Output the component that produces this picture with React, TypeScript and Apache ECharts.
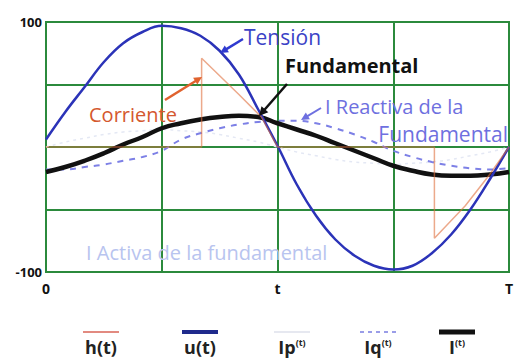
import { useEffect, useRef } from "react";
import * as echarts from "echarts";

// angle along one period, degrees
const angleDeg = [0, 15, 30, 45, 60, 75, 90, 105, 120, 135, 150, 165, 180, 195, 210, 225, 240, 255, 270, 285, 300, 315, 330, 345, 360];
// u(t) voltage
const voltage = [6, 28, 48, 68, 83, 92, 97, 95, 89, 77, 58, 30, 1, -30, -55, -74, -87, -95, -98, -95, -85, -70, -50, -26, 0];
// I(t) fundamental
const fundamental = [-20, -16, -11, -5, 2, 8, 15, 19, 22, 24, 25, 24, 19, 14, 9, 3, -3, -9, -15, -19, -22, -23, -23, -22, -20];
// Iq(t) reactive component of the fundamental
const reactive = [-18, -18, -16, -14, -11, -8, -3, 6, 11, 15, 18, 20, 21, 21, 19, 15, 10, 4, -3, -8, -12, -15, -17, -18, -17];
// Ip(t) active component of the fundamental (faint)
const active = [0, 4, 7, 10, 12, 13, 14, 13, 12, 10, 7, 4, 0, -4, -7, -10, -12, -13, -14, -13, -12, -10, -7, -4, 0];
// h(t) current
const currentAngle = [0, 121, 121, 135, 150, 167.5, 180, 302, 302, 326, 345, 360];
const currentValue = [0, 0, 71, 57, 42, 24, 0, 0, -73, -47, -22, 0];

const xTickLabels: Record<number, string> = { 0: "0", 180: "t", 360: "T" };
const yTickLabels: Record<string, string> = { "100": "100", "-100": "-100" };

const legendNames = ["h(t)", "u(t)", "Ip", "Iq", "I"];

const GREEN = "#2b8a3c";
const C_U = "#2b33b8";
const C_H = "#e0703e";
const C_Q = "#7d80e6";
const C_P = "#e4e8f4";
const C_I = "#111111";
const FONT = "'Open Sans', 'Noto Sans', sans-serif";

function pairs(xs: number[], ys: number[]) {
  return xs.map((x, i) => [x, ys[i]]);
}

function arrow(x1: number, y1: number, x2: number, y2: number, color: string, width: number, head: number) {
  const dx = x2 - x1;
  const dy = y2 - y1;
  const len = Math.hypot(dx, dy);
  const ux = dx / len;
  const uy = dy / len;
  const bx = x2 - ux * head;
  const by = y2 - uy * head;
  const px = -uy * head * 0.5;
  const py = ux * head * 0.5;
  return [
    { type: "line", shape: { x1, y1, x2: bx + ux, y2: by + uy }, style: { stroke: color, lineWidth: width }, z: 100 },
    { type: "polygon", shape: { points: [[x2, y2], [bx + px, by + py], [bx - px, by - py]] }, style: { fill: color }, z: 100 },
  ];
}

function label(text: string, x: number, y: number, fill: string, size: number, extra: any = {}) {
  return {
    type: "text",
    x,
    y,
    z: 100,
    style: {
      text,
      fill,
      fontSize: size,
      fontFamily: FONT,
      align: "left",
      verticalAlign: "middle",
      ...extra,
    },
  };
}

function legendItem(cx: number, name: string, sup: boolean, line: any) {
  const items: any[] = [
    {
      type: "line",
      shape: { x1: cx - 18, y1: 332, x2: cx + 18, y2: 332 },
      style: line,
      z: 100,
    },
  ];
  if (sup) {
    items.push({
      type: "text",
      x: cx,
      y: 347,
      z: 100,
      style: {
        text: `{m|${name}}{s|(t)}`,
        align: "center",
        verticalAlign: "middle",
        rich: {
          m: { fontSize: 18, fontWeight: "bold", fontFamily: FONT, fill: "#222" },
          s: { fontSize: 9, fontWeight: "bold", fontFamily: FONT, fill: "#222", verticalAlign: "top", padding: [0, 0, 10, 0] },
        },
      },
    });
  } else {
    items.push({
      type: "text",
      x: cx,
      y: 347,
      z: 100,
      style: {
        text: name,
        fill: "#222",
        fontSize: 18,
        fontWeight: "bold",
        fontFamily: FONT,
        align: "center",
        verticalAlign: "middle",
      },
    });
  }
  return items;
}

export default function App() {
  const ref = useRef<HTMLDivElement>(null);

  useEffect(() => {
    if (!ref.current) return;
    const chart = echarts.init(ref.current, undefined, { renderer: "svg" });

    const graphics: any[] = [
      label("Tensión", 244, 37, "#3a42c6", 21),
      ...arrow(243, 39, 220, 53, "#2f3ad0", 2.5, 8),
      label("Fundamental", 285, 65, "#111", 20, { fontWeight: "bold" }),
      ...arrow(287, 84, 259, 116, "#111", 2.5, 9),
      label("Corriente", 89, 114, "#d4582e", 20),
      ...arrow(165, 100, 202, 77, "#e0622e", 2.5, 8),
      label("I Reactiva de la", 325, 106, "#6e70e0", 20),
      label("Fundamental", 508, 134, "#6e70e0", 21, { align: "right" }),
      ...arrow(321, 108, 301, 120, "#6e70e0", 2, 8),
      label("I Activa de la fundamental", 86, 252, "#b8c4ef", 20),
      ...legendItem(101, legendNames[0], false, { stroke: "#e28a80", lineWidth: 2 }),
      ...legendItem(200, legendNames[1], false, { stroke: "#1f2a8c", lineWidth: 4 }),
      ...legendItem(292, legendNames[2], true, { stroke: "#e6e8f0", lineWidth: 2 }),
      ...legendItem(378, legendNames[3], true, { stroke: "#9a9de8", lineWidth: 2, lineDash: [4, 4] }),
      ...legendItem(457, legendNames[4], true, { stroke: "#111", lineWidth: 5 }),
    ];

    chart.setOption({
      animation: false,
      backgroundColor: "#ffffff",
      grid: {
        left: 46,
        right: 8,
        top: 22,
        bottom: 86,
        show: true,
        borderColor: GREEN,
        borderWidth: 2,
      },
      xAxis: {
        type: "value",
        min: 0,
        max: 360,
        interval: 90,
        axisLine: { show: true, onZero: false, lineStyle: { color: GREEN, width: 2 } },
        axisTick: { show: false },
        splitLine: { show: true, lineStyle: { color: GREEN, width: 2 } },
        axisLabel: {
          margin: 9,
          color: "#111",
          fontSize: 14,
          fontWeight: "bold",
          fontFamily: FONT,
          showMaxLabel: true,
          formatter: (v: number) => xTickLabels[v] ?? "",
        },
      },
      yAxis: {
        type: "value",
        min: -100,
        max: 100,
        interval: 50,
        axisLine: { show: true, lineStyle: { color: GREEN, width: 2 } },
        axisTick: { show: false },
        splitLine: { show: true, lineStyle: { color: GREEN, width: 2 } },
        axisLabel: {
          margin: 4,
          color: "#111",
          fontSize: 13,
          fontWeight: "bold",
          fontFamily: FONT,
          formatter: (v: number) => yTickLabels[String(v)] ?? "",
        },
      },
      series: [
        {
          name: "Ip(t)",
          type: "line",
          data: pairs(angleDeg, active),
          smooth: 0.4,
          showSymbol: false,
          lineStyle: { color: C_P, width: 1.5, type: [3, 4] },
          z: 2,
        },
        {
          name: "Iq(t)",
          type: "line",
          data: pairs(angleDeg, reactive),
          smooth: 0.4,
          showSymbol: false,
          lineStyle: { color: C_Q, width: 2, type: [6, 6] },
          z: 3,
        },
        {
          name: "I(t)",
          type: "line",
          data: pairs(angleDeg, fundamental),
          smooth: 0.5,
          showSymbol: false,
          lineStyle: { color: C_I, width: 4.5 },
          z: 4,
        },
        {
          name: "u(t)",
          type: "line",
          data: pairs(angleDeg, voltage),
          smooth: 0.4,
          showSymbol: false,
          lineStyle: { color: C_U, width: 2.5 },
          z: 5,
        },
        {
          name: "h(t)",
          type: "line",
          data: pairs(currentAngle, currentValue),
          smooth: false,
          showSymbol: false,
          lineStyle: { color: C_H, width: 1.5, opacity: 0.6 },
          z: 6,
        },
      ],
      graphic: graphics,
    });

    return () => chart.dispose();
  }, []);

  return (
    <div
      ref={ref}
      style={{ position: "fixed", left: 0, top: 0, width: 517, height: 358, background: "#fff" }}
    />
  );
}
